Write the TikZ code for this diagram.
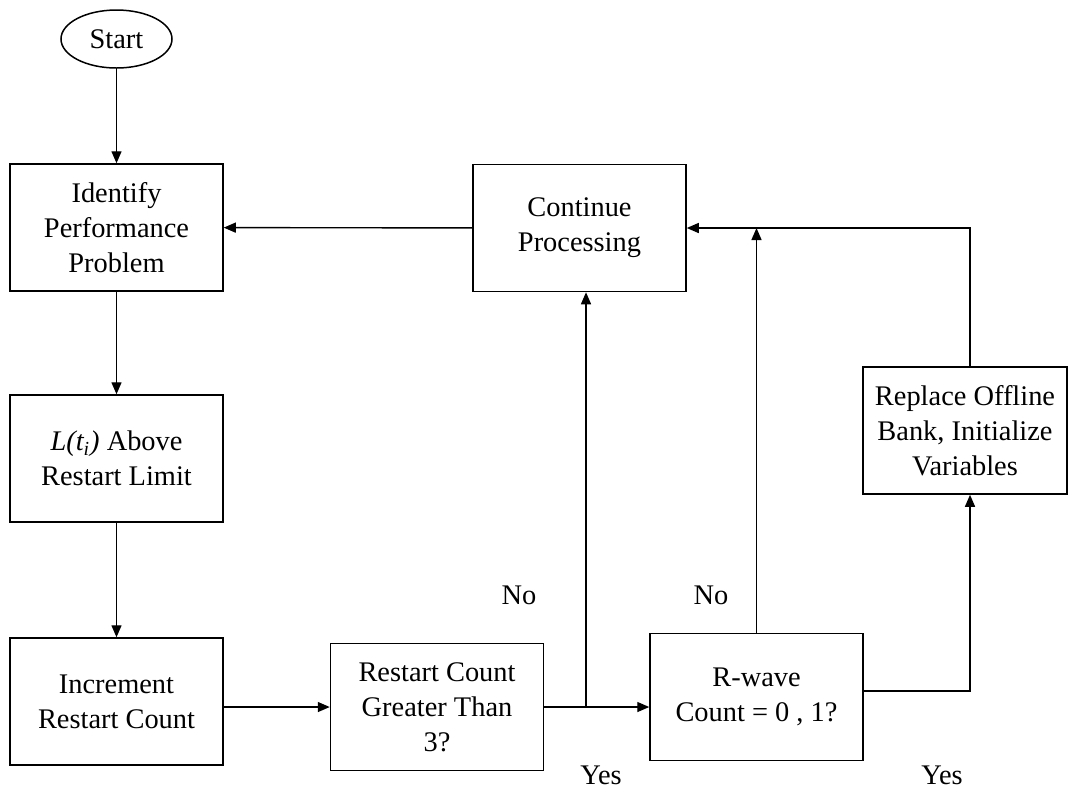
\documentclass[tikz,border=0pt]{standalone}
\usepackage{fontspec}
\setmainfont{Liberation Serif}
\usetikzlibrary{arrows.meta,shapes}

\tikzset{
  stepbox/.style={draw=black, line width=0.75pt, rectangle, align=center,
    minimum width=106.5pt, minimum height=63.5pt, inner sep=2pt,
    font=\fontsize{14.2}{17.5}\selectfont},
  flowarrow/.style={draw=black, line width=0.7pt, -{Triangle[length=6pt,width=5pt]}},
  answer/.style={font=\fontsize{14.2}{17.5}\selectfont, inner sep=0pt}
}

\begin{document}
\begin{tikzpicture}[x=0.5pt, y=-0.5pt]
        \useasboundingbox (0,0) rectangle (1068,789);
        % Draw the start oval
        \node[draw=black, line width=0.75pt, ellipse, minimum width=55.5pt, minimum height=29pt,
          inner sep=0pt, font=\fontsize{14.2}{17.5}\selectfont] (start) at (116.5,39) {Start};
        % Draw the left column of boxes
        \node[stepbox] (ident) at (116.5,227.5) {Identify\\Performance\\Problem};
        \node[stepbox] (limit) at (116.5,458.5) {\textit{L(t\textsubscript{i})} Above\\Restart Limit};
        \node[stepbox] (incr) at (116.5,701.5) {Increment\\Restart Count};
        % Draw the decision boxes
        \node[stepbox] (greater) at (437,707) {Restart Count\\Greater Than\\3?};
        \node[stepbox] (cont) at (579.5,228) {Continue\\Processing};
        \node[stepbox] (rwave) at (756.5,697) {R-wave\\Count = 0 , 1?};
        \node[stepbox, minimum width=102pt] (replace) at (965,430.5) {Replace Offline\\Bank, Initialize\\Variables};
        \coordinate (split) at (586,707);
        % Draw the arrows
        \draw[flowarrow] (start) -- (ident);
        \draw[flowarrow] (ident) -- (limit);
        \draw[flowarrow] (limit) -- (incr);
        \draw[flowarrow] (incr.east |- greater.west) -- (greater.west);
        \draw[flowarrow] (greater.east) -- (greater.east -| rwave.west);
        \draw[flowarrow] (split) -- (split |- cont.south);
        \draw[flowarrow] (cont) -- (ident);
        \draw[flowarrow] (rwave.north) -- (rwave.north |- cont.east);
        \draw[flowarrow] ([xshift=2.5pt]replace.north) |- (cont.east);
        \draw[flowarrow] ([yshift=3pt]rwave.east) -| ([xshift=2.5pt]replace.south);
        % Draw the answers
        \node[answer] (no1) at (519,595) {No};
        \node[answer] (no2) at (711,595) {No};
        \node[answer] (yes1) at (601,775) {Yes};
        \node[answer] (yes2) at (942,775) {Yes};
    \end{tikzpicture}
\end{document}
